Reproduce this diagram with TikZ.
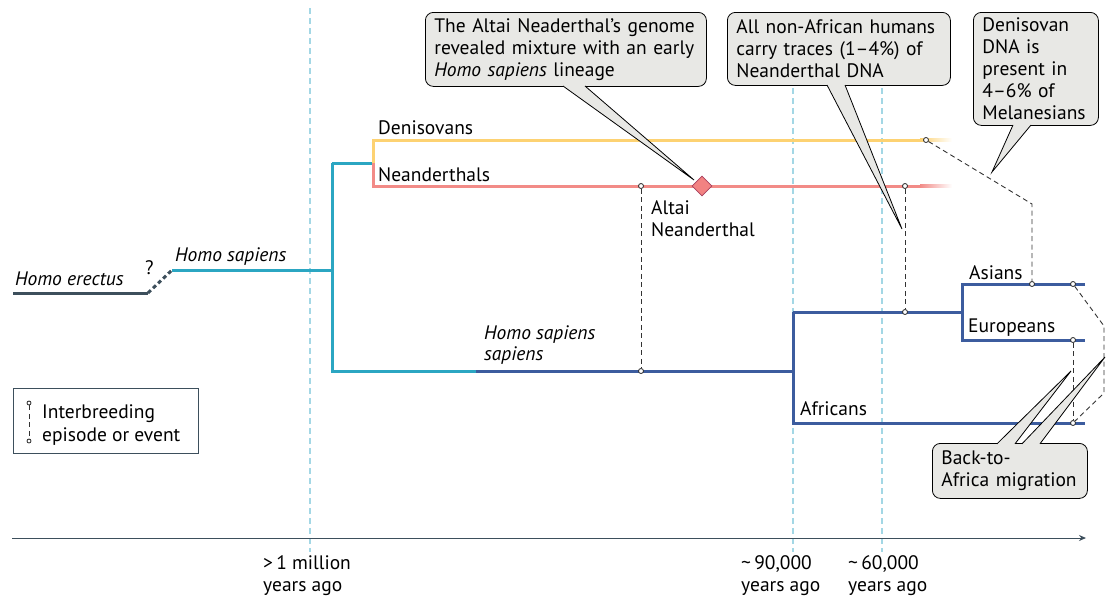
\documentclass[tikz,border=0pt]{standalone}
\usepackage{fontspec}
\setmainfont{PT Sans}
\usetikzlibrary{arrows.meta,positioning,calc,shapes.geometric}
\definecolor{pizarra}{HTML}{3D4F5C}
\definecolor{turquesa}{HTML}{2BA6C2}
\definecolor{azul}{HTML}{3C5C9E}
\definecolor{amarillo}{HTML}{FDD272}
\definecolor{rosa}{HTML}{F28B87}
\definecolor{celeste}{HTML}{A3D7E5}
\definecolor{grisGlobo}{HTML}{E8E8E5}
\definecolor{rombo}{HTML}{F28282}
\definecolor{romboBorde}{HTML}{A8405E}

\begin{document}
\begin{tikzpicture}[x=1pt, y=-1pt,
            font=\fontsize{19.5}{22}\selectfont,
            linaje/.style={line width=3pt},
            cruce/.style={draw=black!80, line width=0.9pt, dash pattern=on 5pt off 3.5pt},
            punto/.style={circle, draw=black!85, fill=white, line width=0.8pt, inner sep=0pt, minimum size=5pt},
            tiempo/.style={draw=celeste, line width=2.2pt, dash pattern=on 6pt off 4pt},
            globo/.style={draw, fill=grisGlobo, rounded corners=8pt, line width=0.8pt, anchor=north west, align=left, inner xsep=9pt, inner ysep=0pt},
            punta/.style={fill=grisGlobo, draw, line width=0.8pt, line join=miter},
            etiqueta/.style={anchor=base west, inner sep=0pt}
        ]
\useasboundingbox (0,0) rectangle (1113,598);

% time guides
\draw[tiempo] (310,8) -- (310,552);
\draw[tiempo] (793,88) -- (793,552);
\draw[tiempo] (882,88) -- (882,552);

% time axis
\coordinate (e0) at (12,538);
\coordinate (e1) at (1086,538);
\draw[pizarra, line width=1pt, -{Stealth[length=7pt,width=6pt]}] (e0) -- (e1);
\node[etiqueta] (t1a) at (263,569) {>\,1 million};
\node[etiqueta] (t1b) at (263,591) {years ago};
\node[etiqueta] (t2a) at (741,569) {\textasciitilde\,90,000};
\node[etiqueta] (t2b) at (741,591) {years ago};
\node[etiqueta] (t3a) at (848,569) {\textasciitilde\,60,000};
\node[etiqueta] (t3b) at (848,591) {years ago};

% lineages
\coordinate (he0) at (13,293);
\coordinate (he1) at (148,293);
\coordinate (hs0) at (172,270);
\coordinate (hs1) at (332,270);
\coordinate (arc) at (332,163);
\coordinate (sap) at (332,371);
\coordinate (dn) at (373,163);
\coordinate (dn1) at (373,140);
\coordinate (ne1) at (373,186);
\coordinate (dn2) at (920,140);
\coordinate (ne2) at (920,186);
\coordinate (ss) at (476,371);
\coordinate (oa) at (793,371);
\coordinate (oa1) at (793,312);
\coordinate (af) at (793,423);
\coordinate (af1) at (1085,423);
\coordinate (ea) at (962,312);
\coordinate (as) at (962,284);
\coordinate (as1) at (1085,284);
\coordinate (eu) at (962,340);
\coordinate (eu1) at (1085,340);

\draw[linaje, pizarra] (he0) -- (he1);
\draw[pizarra, line width=3pt, dash pattern=on 4pt off 3pt] (he1) -- (hs0);
\draw[linaje, turquesa] (hs0) -- (hs1);
\draw[linaje, turquesa] (arc) -- (sap) -- (ss);
\draw[linaje, turquesa] (arc) -- (dn);
\draw[linaje, amarillo] (dn) -- (dn1) -- (dn2);
\draw[linaje, rosa] (dn) -- (ne1) -- (ne2);
\shade[left color=amarillo, right color=white] (920,138.5) rectangle (952,141.5);
\shade[left color=rosa, right color=white] (920,184.5) rectangle (952,187.5);
\draw[linaje, azul] (ss) -- (oa);
\draw[linaje, azul] (oa1) -- (af) -- (af1);
\draw[linaje, azul] (oa1) -- (ea);
\draw[linaje, azul] (as1) -- (as) -- (eu) -- (eu1);

\node[etiqueta] (lhe) at (15,285) {\itshape Homo erectus};
\node[etiqueta] (lq) at (145,274) {?};
\node[etiqueta] (lhs) at (175,261) {\itshape Homo sapiens};
\node[etiqueta] (lde) at (378,134) {Denisovans};
\node[etiqueta] (lne) at (378,181) {Neanderthals};
\node[etiqueta] (lss) at (484,339) {\itshape Homo sapiens};
\node[etiqueta] (lss2) at (484,360) {\itshape sapiens};
\node[etiqueta] (las) at (969,279) {Asians};
\node[etiqueta] (leu) at (968,332) {Europeans};
\node[etiqueta] (laf) at (800,415) {Africans};
\node[etiqueta] (lal) at (651,214) {Altai};
\node[etiqueta] (lal2) at (651,236) {Neanderthal};

% interbreeding
\node[punto] (c1) at (641,186) {};
\node[punto] (c2) at (641,371) {};
\node[punto] (c3) at (905,186) {};
\node[punto] (c4) at (905,312) {};
\node[punto] (c5) at (926,140) {};
\node[punto] (c6) at (1032,284) {};
\node[punto] (c7) at (1073,284) {};
\node[punto] (c8) at (1073,340) {};
\node[punto] (c9) at (1073,423) {};
\coordinate (k1) at (1032,204);
\coordinate (k2) at (1104,326);
\coordinate (k3) at (1104,393);
\draw[cruce] (c1) -- (c2);
\draw[cruce] (c3) -- (c4);
\draw[cruce] (c5) -- (k1) -- (c6);
\draw[cruce] (c8) -- (c9);
\draw[cruce] (c7) -- (k2) -- (k3) -- (c9);

\node[diamond, fill=rombo, draw=romboBorde, line width=0.8pt, inner sep=0pt, minimum size=20pt] (altai) at (702,186) {};

% legend
\node[draw=pizarra, line width=0.8pt, anchor=north west, minimum width=185pt, minimum height=65pt] (ley) at (13,388) {};
\node[punto, minimum size=4pt] (ly1) at (29,403) {};
\node[punto, minimum size=4pt] (ly2) at (29,441) {};
\draw[cruce] (ly1) -- (ly2);
\node[etiqueta] (ley1) at (42,418) {Interbreeding};
\node[etiqueta] (ley2) at (42,441) {episode or event};

% callouts
\node[globo, text width=263pt, minimum height=74pt] (g1) at (425,12)
    {The Altai Neaderthal’s genome\\revealed mixture with an early\\\textit{Homo sapiens} lineage};
\node[globo, text width=205pt, minimum height=73pt] (g2) at (727,12)
    {All non-African humans\\carry traces (1–4\%) of\\Neanderthal DNA};
\node[globo, text width=107pt, minimum height=113pt] (g3) at (973,12)
    {Denisovan\\DNA is\\present in\\4–6\% of\\Melanesians};
\node[globo, text width=137pt, minimum height=55pt] (g4) at (932,443)
    {Back-to-\\Africa migration};

\coordinate (p1) at (694,180);
\coordinate (p2) at (902,229);
\coordinate (p3) at (992,172);
\coordinate (p4) at (1071,371);
\coordinate (p5) at (1105,357);
\path[punta] ($(g1.south west)+(138,-0.8)$) -- (p1) -- ($(g1.south west)+(160,-0.8)$);
\path[punta] ($(g2.south west)+(100,-0.8)$) -- (p2) -- ($(g2.south west)+(118,-0.8)$);
\path[punta] ($(g3.south west)+(40,-0.8)$) -- (p3) -- ($(g3.south west)+(58,-0.8)$);
\path[punta] ($(g4.north west)+(65,0.8)$) -- (p4) -- ($(g4.north west)+(83,0.8)$);
\path[punta] ($(g4.north west)+(90,0.8)$) -- (p5) -- ($(g4.north west)+(108,0.8)$);
        \end{tikzpicture}
\end{document}
